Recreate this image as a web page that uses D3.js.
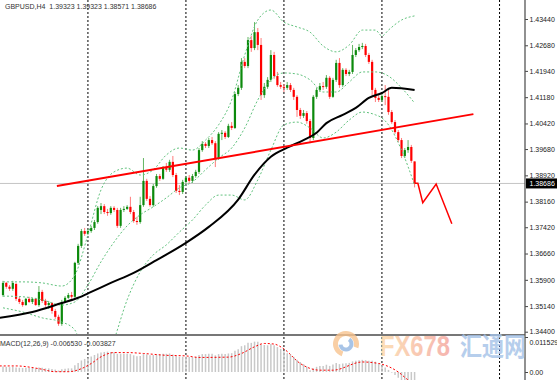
<!DOCTYPE html>
<html>
<head>
<meta charset="utf-8">
<script src="https://cdn.jsdelivr.net/npm/d3@7"></script>
<style>
  body { margin: 0; background: #fff; }
  svg { display: block; font-family: "Liberation Sans", Arial, sans-serif; }
</style>
</head>
<body>
<svg id="chart" width="557" height="380"></svg>
<script>
// GBPUSD H4 candles, one value per bar
const open = [
  1.3546, 1.3581, 1.3570, 1.3564, 1.3578, 1.3535, 1.3526, 1.3517, 1.3535, 1.3526,
  1.3535, 1.3517, 1.3555, 1.3529, 1.3517, 1.3523, 1.3500, 1.3483, 1.3463, 1.3526,
  1.3538, 1.3546, 1.3541, 1.3639, 1.3688, 1.3731, 1.3723, 1.3731, 1.3740, 1.3757,
  1.3792, 1.3803, 1.3786, 1.3783, 1.3798, 1.3792, 1.3746, 1.3792, 1.3795, 1.3801,
  1.3786, 1.3760, 1.3757, 1.3806, 1.3876, 1.3824, 1.3806, 1.3861, 1.3890, 1.3882,
  1.3913, 1.3908, 1.3931, 1.3893, 1.3847, 1.3844, 1.3873, 1.3885, 1.3876, 1.3890,
  1.3902, 1.3965, 1.3983, 1.3977, 1.3994, 1.3985, 1.3942, 1.4012, 1.4015, 1.4003,
  1.4035, 1.4029, 1.4127, 1.4145, 1.4220, 1.4208, 1.4283, 1.4260, 1.4306, 1.4269,
  1.4124, 1.4148, 1.4168, 1.4240, 1.4179, 1.4153, 1.4148, 1.4145, 1.4153, 1.4139,
  1.4119, 1.4081, 1.4064, 1.4072, 1.4049, 1.4000, 1.4119, 1.4139, 1.4150, 1.4148,
  1.4174, 1.4119, 1.4168, 1.4217, 1.4153, 1.4197, 1.4185, 1.4191, 1.4240, 1.4254,
  1.4263, 1.4266, 1.4240, 1.4220, 1.4139, 1.4116, 1.4110, 1.4121, 1.4119, 1.4075,
  1.4046, 1.4017, 1.3994, 1.3948, 1.3965, 1.3974, 1.39323
];
const high = [
  1.3587, 1.3584, 1.3575, 1.3587, 1.3581, 1.3541, 1.3532, 1.3538, 1.3541, 1.3538,
  1.3538, 1.3572, 1.3561, 1.3535, 1.3529, 1.3526, 1.3506, 1.3489, 1.3532, 1.3543,
  1.3552, 1.3555, 1.3642, 1.3694, 1.3737, 1.3740, 1.3737, 1.3746, 1.3763, 1.3803,
  1.3812, 1.3809, 1.3795, 1.3803, 1.3803, 1.3798, 1.3798, 1.3803, 1.3806, 1.3830,
  1.3792, 1.3772, 1.3830, 1.3942, 1.3882, 1.3832, 1.3867, 1.3896, 1.3896, 1.3919,
  1.3928, 1.3937, 1.3948, 1.3899, 1.3864, 1.3879, 1.3890, 1.3893, 1.3896, 1.3908,
  1.3971, 1.3991, 1.3988, 1.4000, 1.4003, 1.3991, 1.4017, 1.4023, 1.4020, 1.4041,
  1.4046, 1.4133, 1.4153, 1.4231, 1.4231, 1.4292, 1.4295, 1.4335, 1.4318, 1.4289,
  1.4159, 1.4176, 1.4254, 1.4249, 1.4191, 1.4162, 1.4156, 1.4162, 1.4159, 1.4145,
  1.4124, 1.4087, 1.4081, 1.4078, 1.4055, 1.4124, 1.4145, 1.4159, 1.4162, 1.4182,
  1.4179, 1.4174, 1.4226, 1.4231, 1.4202, 1.4202, 1.4197, 1.4269, 1.4260, 1.4272,
  1.4275, 1.4272, 1.4246, 1.4226, 1.4145, 1.4124, 1.4127, 1.4153, 1.4145, 1.4081,
  1.4052, 1.4023, 1.4000, 1.3971, 1.3994, 1.3980, 1.39323
];
const low = [
  1.3541, 1.3564, 1.3558, 1.3558, 1.3529, 1.3520, 1.3512, 1.3515, 1.3523, 1.3520,
  1.3515, 1.3512, 1.3523, 1.3512, 1.3506, 1.3492, 1.3477, 1.3457, 1.3457, 1.3523,
  1.3535, 1.3535, 1.3538, 1.3633, 1.3682, 1.3717, 1.3720, 1.3726, 1.3734, 1.3752,
  1.3780, 1.3780, 1.3775, 1.3778, 1.3786, 1.3740, 1.3740, 1.3786, 1.3792, 1.3780,
  1.3755, 1.3749, 1.3752, 1.3801, 1.3818, 1.3801, 1.3801, 1.3856, 1.3876, 1.3879,
  1.3902, 1.3902, 1.3887, 1.3841, 1.3835, 1.3838, 1.3867, 1.3870, 1.3870, 1.3885,
  1.3896, 1.3960, 1.3971, 1.3971, 1.3980, 1.3916, 1.3937, 1.3994, 1.3997, 1.4000,
  1.4023, 1.4026, 1.4121, 1.4139, 1.4202, 1.4202, 1.4249, 1.4254, 1.4254, 1.4110,
  1.4116, 1.4142, 1.4162, 1.4171, 1.4148, 1.4142, 1.4133, 1.4139, 1.4133, 1.4110,
  1.4061, 1.4055, 1.4058, 1.4041, 1.3985, 1.3994, 1.4113, 1.4133, 1.4139, 1.4142,
  1.4113, 1.4116, 1.4162, 1.4145, 1.4148, 1.4179, 1.4179, 1.4185, 1.4234, 1.4249,
  1.4257, 1.4234, 1.4214, 1.4124, 1.4104, 1.4104, 1.4104, 1.4095, 1.4067, 1.4041,
  1.4012, 1.3988, 1.3942, 1.3942, 1.3957, 1.3928, 1.38571
];
const close = [
  1.3581, 1.3570, 1.3564, 1.3581, 1.3535, 1.3526, 1.3517, 1.3535, 1.3526, 1.3535,
  1.3517, 1.3555, 1.3529, 1.3517, 1.3523, 1.3500, 1.3483, 1.3463, 1.3526, 1.3538,
  1.3546, 1.3541, 1.3639, 1.3688, 1.3731, 1.3723, 1.3731, 1.3740, 1.3757, 1.3798,
  1.3803, 1.3786, 1.3783, 1.3798, 1.3792, 1.3746, 1.3792, 1.3795, 1.3801, 1.3786,
  1.3760, 1.3757, 1.3806, 1.3876, 1.3824, 1.3806, 1.3861, 1.3890, 1.3882, 1.3913,
  1.3908, 1.3931, 1.3893, 1.3847, 1.3844, 1.3873, 1.3885, 1.3876, 1.3890, 1.3902,
  1.3965, 1.3983, 1.3977, 1.3994, 1.3985, 1.3942, 1.4012, 1.4015, 1.4003, 1.4035,
  1.4029, 1.4127, 1.4145, 1.4220, 1.4208, 1.4283, 1.4260, 1.4306, 1.4269, 1.4124,
  1.4148, 1.4168, 1.4240, 1.4179, 1.4153, 1.4148, 1.4145, 1.4153, 1.4139, 1.4119,
  1.4081, 1.4064, 1.4072, 1.4049, 1.4000, 1.4119, 1.4139, 1.4150, 1.4148, 1.4174,
  1.4119, 1.4168, 1.4217, 1.4153, 1.4197, 1.4185, 1.4191, 1.4240, 1.4254, 1.4263,
  1.4266, 1.4240, 1.4220, 1.4139, 1.4116, 1.4110, 1.4121, 1.4119, 1.4075, 1.4046,
  1.4017, 1.3994, 1.3948, 1.3965, 1.3974, 1.3934, 1.38686
];

// moving average (black), read at a few bars
const maIdx = [-1, 9, 18, 23, 27, 33, 40, 47, 56, 63, 72, 77, 82, 87, 92, 96, 99, 104, 108, 112, 116, 119, 126];
const maVal = [1.3480, 1.3497, 1.3523, 1.3538, 1.3555, 1.3581, 1.3610, 1.3647, 1.3697, 1.3743, 1.3822, 1.3894,
  1.3946, 1.3972, 1.3994, 1.4015, 1.4043, 1.4067, 1.4087, 1.4116, 1.4130, 1.4145, 1.4139];

// bollinger bands (green dots), read at the same bars
const bandIdx = [0, 6, 12, 18, 22, 26, 30, 34, 38, 42, 46, 50, 54, 58, 62, 66, 70, 74, 78, 82, 86, 90, 94, 98,
  102, 106, 110, 114, 116, 118, 122, 126];
const bandUpper = [1.3584, 1.3584, 1.3581, 1.3572, 1.3604, 1.3720, 1.3850, 1.3902, 1.3913, 1.3893, 1.3908, 1.3951,
  1.3971, 1.3965, 1.3994, 1.4038, 1.4110, 1.4240, 1.4341, 1.4370, 1.4335, 1.4321, 1.4306, 1.4266,
  1.4249, 1.4269, 1.4312, 1.4312, 1.4295, 1.4312, 1.4341, 1.4353];
const bandMiddle = [1.3543, 1.3541, 1.3532, 1.3517, 1.3526, 1.3575, 1.3642, 1.3699, 1.3746, 1.3778, 1.3801, 1.3827,
  1.3856, 1.3873, 1.3908, 1.3942, 1.3971, 1.4029, 1.4110, 1.4168, 1.4188, 1.4185, 1.4168, 1.4133,
  1.4133, 1.4162, 1.4191, 1.4191, 1.4188, 1.4179, 1.4145, 1.4101];
const bandLower = [1.3509, 1.3497, 1.3480, 1.3468, 1.3445, 1.3330, 1.3315, 1.3416, 1.3532, 1.3613, 1.3662, 1.3691,
  1.3728, 1.3763, 1.3806, 1.3835, 1.3835, 1.3821, 1.3879, 1.3965, 1.4038, 1.4046, 1.4029, 1.4000,
  1.4017, 1.4052, 1.4075, 1.4067, 1.4058, 1.4038, 1.3965, 1.3864];

// hand drawn objects
const trendIdx = [16.5, 144];
const trendVal = [1.3861, 1.4069];
const pathIdx = [126, 127, 128.5, 132.6, 137.4];
const pathVal = [1.3869, 1.3869, 1.3813, 1.3867, 1.3752];

// week separators (bar positions)
const sepIdx = [26, 56, 86, 116, 152];

// price axis
const priceTicks = [1.43440, 1.42680, 1.41940, 1.41180, 1.40420, 1.39680, 1.38920,
  1.38160, 1.37420, 1.36660, 1.35900, 1.35140, 1.34400];
const lastPrice = 1.38686;

// MACD(12,26,9): main line as bars, signal as dots
const macdMain = [
  0.0018, 0.0017, 0.0016, 0.0017, 0.0015, 0.0014, 0.0013, 0.0014, 0.0013, 0.0014,
  0.0012, 0.0015, 0.0014, 0.0012, 0.0012, 0.0010, 0.0008, 0.0005, 0.0009, 0.0011,
  0.0012, 0.0012, 0.0022, 0.0030, 0.0038, 0.0043, 0.0047, 0.0051, 0.0056, 0.0061,
  0.0064, 0.0066, 0.0067, 0.0066, 0.0065, 0.0060, 0.0060, 0.0060, 0.0060, 0.0059,
  0.0055, 0.0052, 0.0053, 0.0059, 0.0058, 0.0055, 0.0056, 0.0058, 0.0058, 0.0060,
  0.0060, 0.0061, 0.0058, 0.0053, 0.0050, 0.0050, 0.0050, 0.0049, 0.0049, 0.0050,
  0.0056, 0.0059, 0.0059, 0.0060, 0.0060, 0.0055, 0.0059, 0.0060, 0.0059, 0.0061,
  0.0062, 0.0070, 0.0075, 0.0085, 0.0088, 0.0096, 0.0096, 0.0100, 0.0100, 0.0090,
  0.0089, 0.0088, 0.0092, 0.0088, 0.0082, 0.0076, 0.0068, 0.0062, 0.0058, 0.0050,
  0.0040, 0.0033, 0.0026, 0.0018, 0.0006, 0.0012, 0.0017, 0.0020, 0.0020, 0.0024,
  0.0020, 0.0025, 0.0030, 0.0026, 0.0028, 0.0029, 0.0030, 0.0035, 0.0037, 0.0039,
  0.0040, 0.0039, 0.0037, 0.0037, 0.0034, 0.0028, 0.0022, 0.0015, 0.0007, -0.0002,
  -0.0010, -0.0019, -0.0030, -0.0035, -0.0040, -0.0049, -0.006530
];
const sigIdx = [-1, 4, 11, 16, 20, 24, 27, 30, 34, 38, 43, 50, 56, 60, 69, 73, 77, 80, 83, 86, 91, 97, 101,
  110, 115, 121, 124, 126];
const sigVal = [0.0020, 0.0020, 0.0011, 0.0001, 0.0001, 0.0011, 0.0028, 0.0050, 0.0064, 0.0064, 0.0061, 0.0055,
  0.0053, 0.0048, 0.0049, 0.0061, 0.0083, 0.0094, 0.0092, 0.0076, 0.0028, 0.0006, 0.0006,
  0.0033, 0.0028, 0.0000, -0.0026, -0.003827];
const macdTicks = [0.011529, 0];

const chart = {
  width: 557,
  height: 380,
  axisX: 525,
  mainBottom: 335,
  macdTop: 337,
  upBody: "#0c8a0c",
  upWick: "#62b562",
  downBody: "#ff0000",
  downWick: "#ff7a7a",
  band: "#62c27e",
};

const svg = d3.select("#chart");

// scales: bar index -> x, price -> y
const x = d3.scaleLinear().domain([0, 126]).range([3, 414.6]);
const y = d3.scaleLinear().domain([1.3440, 1.4344]).range([331.7, 19]);
const ym = d3.scaleLinear().domain([0, 0.011529]).range([372, 337]);

const defs = svg.append("defs");
defs.append("clipPath").attr("id", "clipMain")
  .append("rect").attr("x", 0).attr("y", 0).attr("width", chart.axisX).attr("height", chart.mainBottom);
defs.append("clipPath").attr("id", "clipMacd")
  .append("rect").attr("x", 0).attr("y", chart.macdTop).attr("width", chart.axisX).attr("height", chart.height - chart.macdTop);

renderMain();
renderMacd();
renderAxis();
renderWatermark();

function renderMain() {
  const g = svg.append("g").attr("clip-path", "url(#clipMain)");

  // week separators
  g.selectAll(".sep").data(sepIdx).join("line")
    .attr("x1", d => x(d)).attr("x2", d => x(d))
    .attr("y1", 0).attr("y2", chart.mainBottom)
    .attr("stroke", "#000").attr("stroke-width", 1).attr("stroke-dasharray", "2,2");

  // last price line
  g.append("line")
    .attr("x1", 0).attr("x2", chart.axisX)
    .attr("y1", y(lastPrice)).attr("y2", y(lastPrice))
    .attr("stroke", "#c4c4c4").attr("stroke-width", 1);

  // candles
  const bars = d3.range(close.length);
  const up = i => close[i] >= open[i];
  g.selectAll(".wick").data(bars).join("line")
    .attr("x1", i => x(i)).attr("x2", i => x(i))
    .attr("y1", i => y(high[i])).attr("y2", i => y(low[i]))
    .attr("stroke", i => up(i) ? chart.upWick : chart.downWick).attr("stroke-width", 1);
  g.selectAll(".body").data(bars).join("rect")
    .attr("x", i => x(i) - 1.1).attr("width", 2.2)
    .attr("y", i => y(Math.max(open[i], close[i])))
    .attr("height", i => Math.max(1, Math.abs(y(open[i]) - y(close[i]))))
    .attr("fill", i => up(i) ? chart.upBody : chart.downBody);

  // bollinger bands
  [bandUpper, bandMiddle, bandLower].forEach(vals => {
    const line = d3.line().x((d, k) => x(bandIdx[k])).y(d => y(d)).curve(d3.curveMonotoneX);
    g.append("path").attr("d", line(vals))
      .attr("fill", "none").attr("stroke", chart.band).attr("stroke-width", 1).attr("stroke-dasharray", "2,2");
  });

  // moving average
  const ma = d3.line().x((d, k) => x(maIdx[k])).y(d => y(d)).curve(d3.curveMonotoneX);
  g.append("path").attr("d", ma(maVal))
    .attr("fill", "none").attr("stroke", "#000").attr("stroke-width", 2);

  // trend line and projected path
  const straight = idx => d3.line().x((d, k) => x(idx[k])).y(d => y(d));
  g.append("path").attr("d", straight(trendIdx)(trendVal))
    .attr("fill", "none").attr("stroke", "#ff0000").attr("stroke-width", 2);
  g.append("path").attr("d", straight(pathIdx)(pathVal))
    .attr("fill", "none").attr("stroke", "#ff0000").attr("stroke-width", 1.5);

  // title
  svg.append("text").attr("x", 5).attr("y", 9)
    .attr("font-size", 7).attr("fill", "#333").attr("xml:space", "preserve")
    .text("GBPUSD,H4  1.39323 1.39323 1.38571 1.38686");
}

function renderMacd() {
  const g = svg.append("g").attr("clip-path", "url(#clipMacd)");

  // separators continue through the sub window
  g.selectAll(".sep").data(sepIdx).join("line")
    .attr("x1", d => x(d)).attr("x2", d => x(d))
    .attr("y1", chart.macdTop).attr("y2", chart.height)
    .attr("stroke", "#000").attr("stroke-width", 1).attr("stroke-dasharray", "2,2");

  g.selectAll(".hist").data(macdMain).join("line")
    .attr("x1", (d, i) => x(i)).attr("x2", (d, i) => x(i))
    .attr("y1", ym(0)).attr("y2", d => ym(d))
    .attr("stroke", "#c8c8c8").attr("stroke-width", 1.5);

  const sig = d3.line().x((d, k) => x(sigIdx[k])).y(d => ym(d)).curve(d3.curveMonotoneX);
  g.append("path").attr("d", sig(sigVal))
    .attr("fill", "none").attr("stroke", "#ff0000").attr("stroke-width", 1).attr("stroke-dasharray", "2,2");

  svg.append("text").attr("x", 0).attr("y", 346)
    .attr("font-size", 7).attr("fill", "#333")
    .text("MACD(12,26,9) -0.006530 -0.003827");

  // window separator
  svg.append("line")
    .attr("x1", 0).attr("x2", chart.axisX)
    .attr("y1", chart.mainBottom).attr("y2", chart.mainBottom)
    .attr("stroke", "#777").attr("stroke-width", 2);
}

function renderAxis() {
  const axis = svg.append("g")
    .attr("transform", `translate(${chart.axisX},0)`)
    .call(d3.axisRight(y).tickValues(priceTicks).tickSize(3).tickPadding(1.5).tickFormat(d3.format(".5f")));
  axis.select(".domain").remove();

  const macdAxis = svg.append("g")
    .attr("transform", `translate(${chart.axisX},0)`)
    .call(d3.axisRight(ym).tickValues(macdTicks).tickSize(3).tickPadding(1.5)
      .tickFormat(d => d === 0 ? "0.00" : String(d)));
  macdAxis.select(".domain").remove();
  // top label of the sub window sits just under the lowest price label
  macdAxis.selectAll(".tick text").filter(d => d > 0).attr("dy", "1.0em");

  svg.selectAll(".tick text").attr("font-size", 7).attr("font-family", "Liberation Sans, Arial, sans-serif").attr("fill", "#222");
  svg.selectAll(".tick line").attr("stroke", "#444");

  svg.append("line")
    .attr("x1", chart.axisX).attr("x2", chart.axisX)
    .attr("y1", 0).attr("y2", chart.height)
    .attr("stroke", "#555").attr("stroke-width", 1.3);

  // last price marker
  svg.append("rect")
    .attr("x", chart.axisX + 1).attr("y", y(lastPrice) - 5)
    .attr("width", 31).attr("height", 10).attr("fill", "#000");
  svg.append("text")
    .attr("x", chart.axisX + 4.5).attr("y", y(lastPrice) + 2.5)
    .attr("font-size", 7).attr("fill", "#fff")
    .text(d3.format(".5f")(lastPrice));
}

function renderWatermark() {
  const g = svg.append("g").attr("opacity", 0.8);

  const grad = defs.append("linearGradient").attr("id", "fxGrad");
  grad.append("stop").attr("offset", "0%").attr("stop-color", "#fcd9a6");
  grad.append("stop").attr("offset", "100%").attr("stop-color", "#f4a39c");

  const logo = g.append("g").attr("transform", "translate(346,344)");
  logo.append("path")
    .attr("d", d3.arc().innerRadius(8).outerRadius(13).startAngle(-2.8).endAngle(1.9)())
    .attr("fill", "#f8c48f");
  logo.append("path")
    .attr("d", d3.arc().innerRadius(3.5).outerRadius(7.5).startAngle(0.6).endAngle(4.6)())
    .attr("fill", "#93b6e2");

  g.append("text").attr("x", 380).attr("y", 356)
    .attr("font-size", 30).attr("font-weight", "bold")
    .attr("textLength", 70).attr("lengthAdjust", "spacingAndGlyphs")
    .attr("fill", "url(#fxGrad)").text("FX678");

  g.append("text").attr("x", 460).attr("y", 356)
    .attr("font-family", "Noto Sans CJK SC").attr("font-size", 26).attr("font-weight", "bold")
    .attr("textLength", 66).attr("lengthAdjust", "spacingAndGlyphs")
    .attr("fill", "#a4c2e8").text("汇通网");
}
</script>
</body>
</html>
